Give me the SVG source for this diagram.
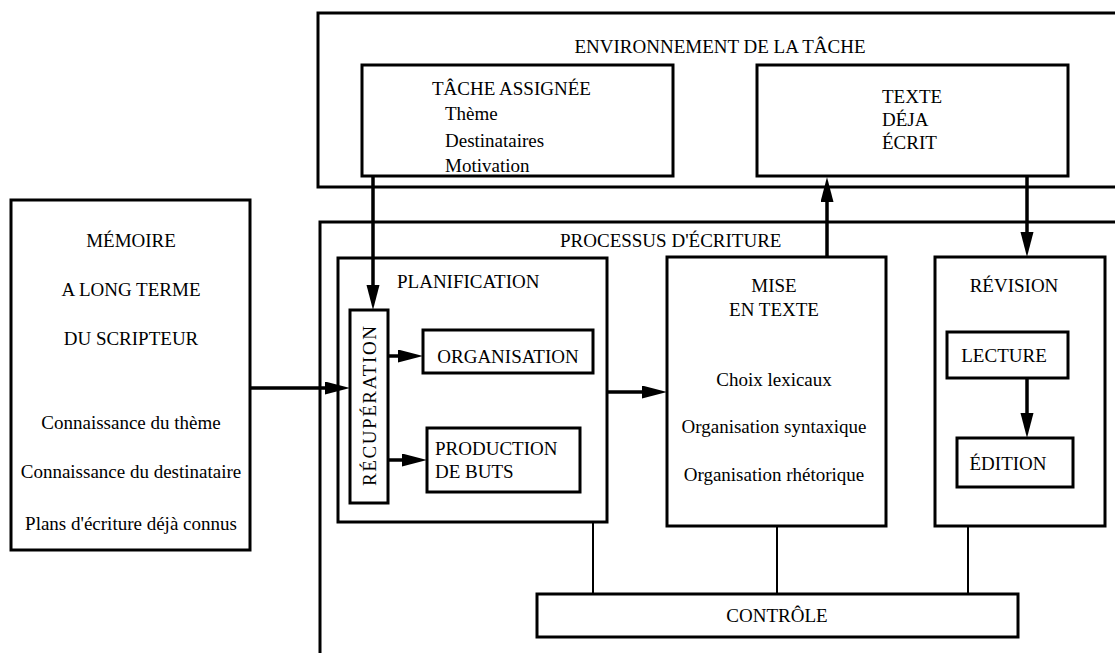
<svg xmlns="http://www.w3.org/2000/svg" width="1115" height="653" viewBox="0 0 1115 653">
<style>
.box{fill:none;stroke:#000;stroke-width:3}
.t{font-family:"Liberation Serif","Times New Roman",serif;font-size:19px;fill:#000}
.c{text-anchor:middle}
.arr{stroke:#000;stroke-width:3.5;fill:none;marker-end:url(#ah)}
.ln{stroke:#000;stroke-width:2;fill:none}
</style>
<defs>
<marker id="ah" markerUnits="userSpaceOnUse" markerWidth="26" markerHeight="14" refX="15" refY="6.5" orient="auto">
<path d="M0,0 L25,6.5 L0,13 z" fill="#000"/>
</marker>
</defs>
<rect width="1115" height="653" fill="#fff"/>

<g id="environnement">
<rect class="box" x="318" y="13" width="812" height="174"/>
<text class="t c" x="720" y="53">ENVIRONNEMENT DE LA TÂCHE</text>
</g>
<g id="tache-assignee">
<rect class="box" x="362" y="65" width="311" height="111"/>
<text class="t" x="432" y="95">TÂCHE ASSIGNÉE</text>
<text class="t" x="445" y="120">Thème</text>
<text class="t" x="445" y="147">Destinataires</text>
<text class="t" x="445" y="172">Motivation</text>
</g>
<g id="texte-deja-ecrit">
<rect class="box" x="757" y="65" width="311" height="111"/>
<text class="t" x="882" y="103">TEXTE</text>
<text class="t" x="882" y="126">DÉJA</text>
<text class="t" x="882" y="149">ÉCRIT</text>
</g>
<g id="memoire">
<rect class="box" x="11" y="200" width="239" height="350"/>
<text class="t c" x="131" y="247">MÉMOIRE</text>
<text class="t c" x="131" y="296">A LONG TERME</text>
<text class="t c" x="131" y="345">DU SCRIPTEUR</text>
<text class="t c" x="131" y="429">Connaissance du thème</text>
<text class="t c" x="131" y="478">Connaissance du destinataire</text>
<text class="t c" x="131" y="530">Plans d'écriture déjà connus</text>
</g>
<g id="processus">
<rect class="box" x="320" y="222" width="810" height="450"/>
<text class="t" x="560" y="247">PROCESSUS D'ÉCRITURE</text>
</g>
<g id="planification">
<rect class="box" x="338" y="258" width="269" height="264"/>
<text class="t" x="397" y="288">PLANIFICATION</text>
</g>
<g id="recuperation">
<rect class="box" x="350" y="310" width="38" height="193"/>
<text class="t c" transform="translate(376,406) rotate(-90)" x="0" y="0" textLength="160" lengthAdjust="spacing">RÉCUPÉRATION</text>
</g>
<g id="organisation">
<rect class="box" x="423" y="330" width="170" height="43"/>
<text class="t c" x="508" y="363">ORGANISATION</text>
</g>
<g id="production">
<rect class="box" x="427" y="428" width="153" height="64"/>
<text class="t" x="435" y="455">PRODUCTION</text>
<text class="t" x="435" y="478">DE BUTS</text>
</g>
<g id="mise-en-texte">
<rect class="box" x="667" y="257" width="219" height="269"/>
<text class="t c" x="774" y="292">MISE</text>
<text class="t c" x="774" y="316">EN TEXTE</text>
<text class="t c" x="774" y="386">Choix lexicaux</text>
<text class="t c" x="774" y="433">Organisation syntaxique</text>
<text class="t c" x="774" y="481">Organisation rhétorique</text>
</g>
<g id="revision">
<rect class="box" x="935" y="257" width="170" height="269"/>
<text class="t c" x="1014" y="292">RÉVISION</text>
</g>
<g id="lecture">
<rect class="box" x="947" y="332" width="121" height="46"/>
<text class="t c" x="1004" y="362">LECTURE</text>
</g>
<g id="edition">
<rect class="box" x="957" y="438" width="116" height="49"/>
<text class="t c" x="1008" y="470">ÉDITION</text>
</g>
<g id="controle">
<rect class="box" x="537" y="594" width="481" height="43"/>
<text class="t c" x="777" y="622">CONTRÔLE</text>
</g>

<g id="connectors">
<line class="arr" x1="373" y1="176" x2="373" y2="300"/>
<line class="arr" x1="827" y1="257" x2="827" y2="187"/>
<line class="arr" x1="1027" y1="176" x2="1027" y2="247"/>
<line class="arr" x1="250" y1="388" x2="340" y2="388"/>
<line class="arr" x1="388" y1="356" x2="413" y2="356"/>
<line class="arr" x1="388" y1="460" x2="417" y2="460"/>
<line class="arr" x1="607" y1="392" x2="657" y2="392"/>
<line class="arr" x1="1027" y1="378" x2="1027" y2="428"/>
<line class="ln" x1="593" y1="522" x2="593" y2="594"/>
<line class="ln" x1="777" y1="526" x2="777" y2="594"/>
<line class="ln" x1="968" y1="526" x2="968" y2="594"/>
</g>
</svg>
